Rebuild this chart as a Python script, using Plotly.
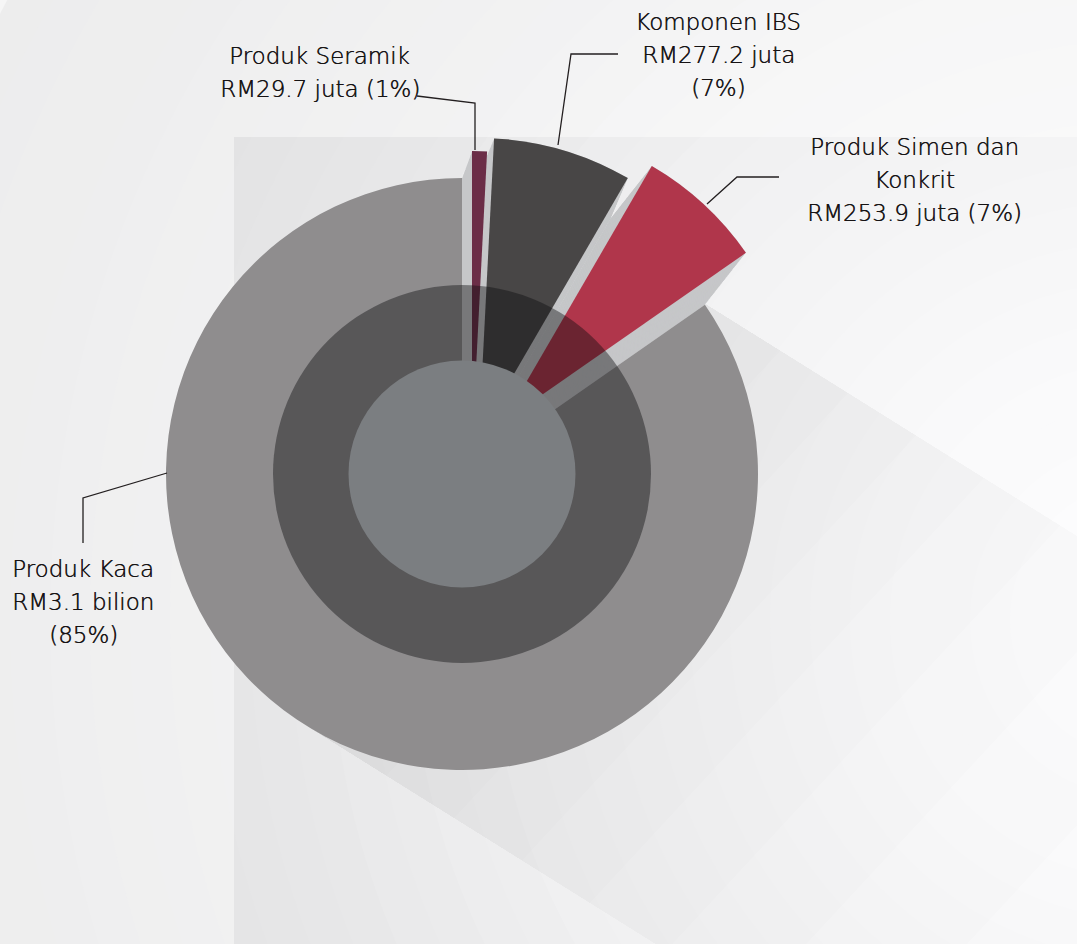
import math
import plotly.graph_objects as go

# ---------------- data ----------------
categories = ["Produk Seramik", "Komponen IBS", "Produk Simen dan Konkrit", "Produk Kaca"]
values_rm_juta = [29.7, 277.2, 253.9, 3100.0]
label_lines = [
    ["Produk Seramik", "RM29.7 juta (1%)"],
    ["Komponen IBS", "RM277.2 juta", "(7%)"],
    ["Produk Simen dan", "Konkrit", "RM253.9 juta (7%)"],
    ["Produk Kaca", "RM3.1 bilion", "(85%)"],
]

# ---------------- style / layout ----------------
W, H = 1077, 944
CX, CY, R = 462, 474, 296
RING_R, INNER_R = 189, 113.5
slice_colors = ["#6b2d47", "#484646", "#b0364b", "#8f8d8e"]
side_color = "#c6c7c9"
pull_px = [(10, -27), (17, -40), (41, -52), (0, 0)]
TRANSP = "rgba(0,0,0,0)"
FONT = "DejaVu Sans"
TXT = "#161314"

label_pos = [  # text centre x, first line y, line step (px)
    (320, 56, 33),
    (718, 22, 33),
    (914, 147, 33),
    (83, 569, 33),
]
leaders = [
    [(417, 96), (475, 103), (475, 150)],
    [(558, 145), (571, 54), (618, 54)],
    [(707, 204), (737, 177), (779, 177)],
    [(167, 473), (83, 498), (83, 543)],
]


def px(x):
    return x / W


def py(y):
    return (H - y) / H


def dom(cx, cy, r):
    return dict(x=[(cx - r) / W, (cx + r) / W], y=[(H - cy - r) / H, (H - cy + r) / H])


def pie(cx, cy, r, colors, vals=values_rm_juta, labels=categories):
    return go.Pie(values=vals, labels=labels, sort=False, direction="clockwise", rotation=0,
                  marker=dict(colors=colors, line=dict(width=0)), textinfo="none",
                  hoverinfo="skip", domain=dom(cx, cy, r), showlegend=False)


fig = go.Figure()

# extrusion sides: sweep each pulled slice from its seat to its pulled position
for i in range(3):
    dx, dy = pull_px[i]
    n = max(2, int(math.ceil(math.hypot(dx, dy) / 1.5)))
    for k in range(n + 1):
        t = k / n
        cols = [TRANSP] * 4
        cols[i] = side_color
        fig.add_trace(pie(CX + dx * t, CY + dy * t, R, cols))

# main (unpulled) slice
cols = [TRANSP] * 4
cols[3] = slice_colors[3]
fig.add_trace(pie(CX, CY, R, cols))

# pulled slices
for i in range(3):
    dx, dy = pull_px[i]
    cols = [TRANSP] * 4
    cols[i] = slice_colors[i]
    fig.add_trace(pie(CX + dx, CY + dy, R, cols))

# dark translucent ring and inner disc
fig.add_trace(pie(CX, CY, RING_R, ["rgba(13,13,15,0.42)"], vals=[1], labels=["ring"]))
fig.add_trace(pie(CX, CY, INNER_R, ["#7b7e81"], vals=[1], labels=["inner"]))

# ---------------- background ----------------
shapes = []
GCX, GCY = 1150, 620
stops = [(0, 254), (300, 249), (600, 242), (900, 231), (1100, 226), (1300, 222)]


def shade(d):
    for (d0, c0), (d1, c1) in zip(stops[:-1], stops[1:]):
        if d <= d1:
            return c0 + (c1 - c0) * (d - d0) / (d1 - d0)
    return stops[-1][1]


for rr in range(1300, 0, -40):
    c = int(round(shade(rr)))
    shapes.append(dict(type="circle", xref="paper", yref="paper", layer="below",
                       x0=px(GCX - rr), x1=px(GCX + rr), y0=py(GCY + rr), y1=py(GCY - rr),
                       fillcolor=f"rgb({c},{c},{c+1})", line=dict(width=0)))
# lighter top band and left strip
shapes.append(dict(type="rect", xref="paper", yref="paper", layer="below",
                   x0=px(0), x1=px(W), y0=py(137), y1=py(0),
                   fillcolor="rgba(255,255,255,0.45)", line=dict(width=0)))
shapes.append(dict(type="rect", xref="paper", yref="paper", layer="below",
                   x0=px(0), x1=px(234), y0=py(H), y1=py(137),
                   fillcolor="rgba(255,255,255,0.45)", line=dict(width=0)))

# long shadow
ux, uy = 0.848, 0.530
pa, pb = (704, 303), (310, 728)
for L in [90, 170, 250, 330, 420, 520, 640]:
    pts = [pa, (pa[0] + L * ux, pa[1] + L * uy), (pb[0] + L * ux, pb[1] + L * uy), pb, (CX, CY)]
    path = "M " + " L ".join(f"{px(x):.5f},{py(y):.5f}" for x, y in pts) + " Z"
    shapes.append(dict(type="path", xref="paper", yref="paper", layer="below", path=path,
                       fillcolor="rgba(70,70,72,0.013)", line=dict(width=0)))

# leader lines
for pts in leaders:
    path = "M " + " L ".join(f"{px(x):.5f},{py(y):.5f}" for x, y in pts)
    shapes.append(dict(type="path", xref="paper", yref="paper", layer="above", path=path,
                       line=dict(color="#231f20", width=1.3)))

annotations = []
for lines, (tx, ty, step) in zip(label_lines, label_pos):
    for j, line in enumerate(lines):
        annotations.append(dict(text=line, x=px(tx), y=py(ty + j * step), xref="paper", yref="paper",
                                xanchor="center", yanchor="middle", showarrow=False,
                                font=dict(family=FONT, size=23, color=TXT, weight=300,
                                          shadow=f"0.45px 0px 0px {TXT}")))

fig.update_layout(width=W, height=H, margin=dict(l=0, r=0, t=0, b=0),
                  paper_bgcolor="#eeeeee", plot_bgcolor="rgba(0,0,0,0)",
                  showlegend=False, shapes=shapes, annotations=annotations)

fig.write_html("out.html", config={"displayModeBar": False},
               post_script="document.body.style.margin='0';document.body.style.overflow='hidden';")
